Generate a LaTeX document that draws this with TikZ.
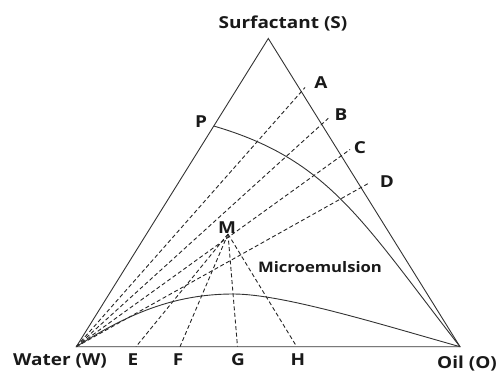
\documentclass[tikz,border=0pt]{standalone}
\usepackage{fontspec}
\setmainfont{Open Sans}
\newfontfamily\labfont[FakeStretch=1.15,BoldFeatures={FakeStretch=1.15}]{Open Sans}
\begin{document}
\begin{tikzpicture}[x=1pt,y=-1pt,
  solidline/.style={line width=0.9pt,black!80},
  dashline/.style={line width=0.9pt,black!85,dash pattern=on 4pt off 2.6pt},
  lab/.style={font=\labfont\fontsize{16.5}{18}\selectfont\bfseries,inner sep=0pt,text=black!90},
  smalllab/.style={font=\labfont\fontsize{14.5}{16}\selectfont\bfseries,inner sep=0pt,text=black!90}]
\useasboundingbox (0,0) rectangle (498,372);
% vertices
\coordinate (W) at (76.3,346.7);
\coordinate (O) at (460,346.7);
\coordinate (S) at (268.3,38.5);
\coordinate (Mp) at (228,234);
\coordinate (Pp) at (213.7,126);
\coordinate (Pk) at (233.3,294);
% ends of dashed lines
\coordinate (Ae) at (305,87.5);
\coordinate (Be) at (328.3,118.3);
\coordinate (Ce) at (350,149.5);
\coordinate (De) at (370,182.5);
\coordinate (Ee) at (136,346.7);
\coordinate (Fe) at (180,346.7);
\coordinate (Ge) at (237.5,346.7);
\coordinate (He) at (296.7,346.7);
% triangle
\draw[solidline,line join=miter] (W) -- (S) -- (O) -- cycle;
% dashed lines from W
\draw[dashline] (W) -- (Ae);
\draw[dashline] (W) -- (Be);
\draw[dashline] (W) -- (Ce);
\draw[dashline] (W) -- (De);
% dashed lines from M
\draw[dashline] (Mp) -- (Ee);
\draw[dashline] (Mp) -- (Fe);
\draw[dashline] (Mp) -- (Ge);
\draw[dashline] (Mp) -- (He);
% phase boundary curves
\draw[solidline] (Pp) .. controls (328.9,159.6) and (361.8,220.5) .. (O);
\draw[solidline] (W) .. controls (126.9,314.5) and (173.3,294) .. (Pk)
                     .. controls (283.3,294) and (383.2,325.1) .. (O);
% labels
\node[lab] (tS) at (283,23) {Surfactant (S)};
\node[lab] (tA) at (321,83) {A};
\node[lab] (tB) at (341,115) {B};
\node[lab] (tC) at (360,148) {C};
\node[lab] (tD) at (387,182) {D};
\node[lab] (tP) at (201,122) {P};
\node[lab] (tM) at (227,228) {M};
\node[smalllab] (tMi) at (320,267) {Microemulsion};
\node[lab] (tW) at (60,361) {Water (W)};
\node[lab] (tE) at (133,360) {E};
\node[lab] (tF) at (178,360) {F};
\node[lab] (tG) at (238,360) {G};
\node[lab] (tH) at (298,360) {H};
\node[lab,anchor=east] (tO) at (497,363.5) {Oil (O)};
\end{tikzpicture}
\end{document}
